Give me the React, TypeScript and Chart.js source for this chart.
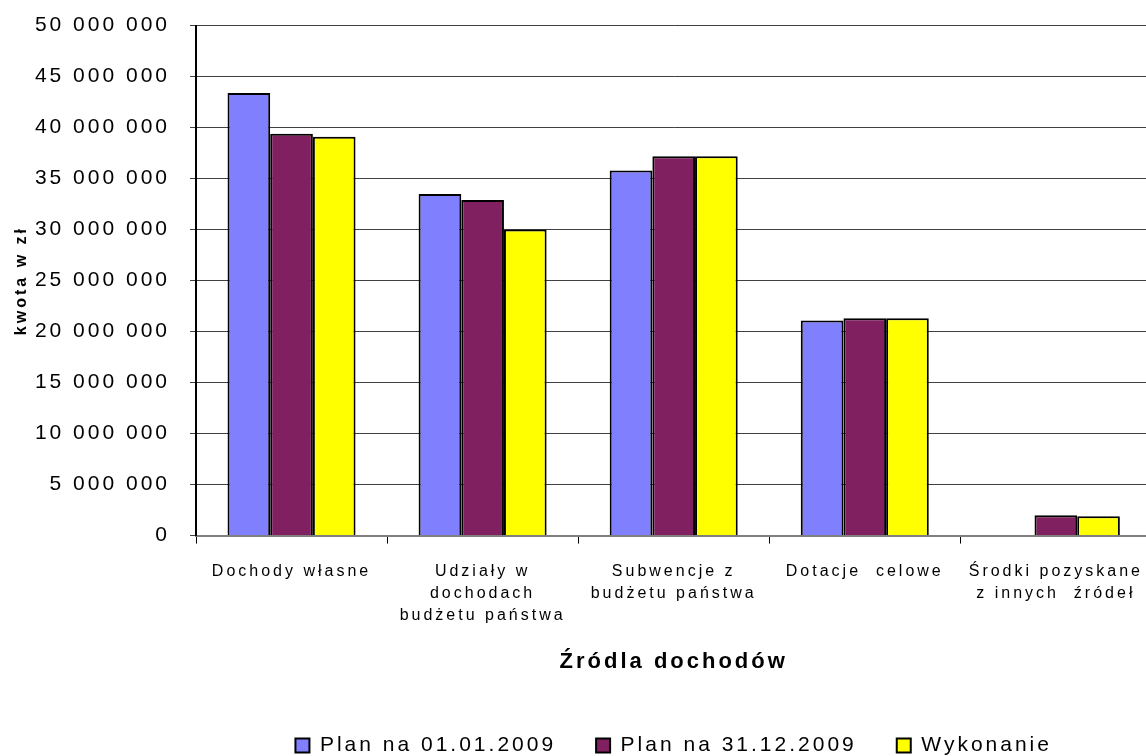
import React, { useEffect, useRef } from "react";
import { Chart, registerables } from "chart.js";

Chart.register(...registerables);

const categories: string[][] = [
  ["Dochody własne"],
  ["Udziały w", "dochodach", "budżetu państwa"],
  ["Subwencje z", "budżetu państwa"],
  ["Dotacje  celowe"],
  ["Środki pozyskane", "z innych  źródeł"],
];

const planStart = [43400000, 33500000, 35800000, 21100000, 0];
const planEnd = [39400000, 32900000, 37200000, 21300000, 2000000];
const execution = [39100000, 30000000, 37200000, 21300000, 1900000];

const seriesNames = ["Plan na 01.01.2009", "Plan na 31.12.2009", "Wykonanie"];
const yTitle = "kwota w zł";
const xTitle = "Źródla dochodów";

const FONT = "'Liberation Sans', Arial, sans-serif";

function fmt(v: number): string {
  return String(v).replace(/\B(?=(\d{3})+(?!\d))/g, " ");
}

const spacingPlugin = {
  id: "letterSpacing",
  beforeUpdate(chart: any) {
    chart.ctx.letterSpacing = "3px";
  },
  beforeLayout(chart: any) {
    chart.ctx.letterSpacing = "3px";
  },
  beforeDraw(chart: any) {
    chart.ctx.letterSpacing = "3px";
  },
};

export default function App() {
  const ref = useRef<HTMLCanvasElement | null>(null);

  useEffect(() => {
    if (!ref.current) return;
    const chart = new Chart(ref.current, {
      type: "bar",
      data: {
        labels: categories,
        datasets: [
          {
            label: seriesNames[0],
            data: planStart,
            backgroundColor: "#8080FF",
            borderColor: "#000000",
            borderWidth: 2,
          },
          {
            label: seriesNames[1],
            data: planEnd,
            backgroundColor: "#802060",
            borderColor: "#000000",
            borderWidth: 2,
          },
          {
            label: seriesNames[2],
            data: execution,
            backgroundColor: "#FFFF00",
            borderColor: "#000000",
            borderWidth: 2,
          },
        ],
      },
      plugins: [spacingPlugin],
      options: {
        responsive: false,
        animation: false,
        devicePixelRatio: 1,
        layout: { padding: { left: 12, right: -2, top: 0, bottom: 2 } },
        datasets: {
          bar: { categoryPercentage: 0.67, barPercentage: 1 },
        },
        plugins: {
          tooltip: { enabled: false },
          legend: {
            position: "bottom",
            fullSize: false,
            labels: {
              color: "#000",
              font: { family: FONT, size: 21 },
              boxWidth: 14,
              boxHeight: 14,
              padding: 40,
            },
          },
        },
        scales: {
          x: {
            grid: {
              offset: true,
              drawOnChartArea: false,
              drawTicks: true,
              tickLength: 8,
              color: "#000",
            },
            border: { color: "#808080", width: 2 },
            ticks: {
              color: "#000",
              font: { family: FONT, size: 16, lineHeight: 1.375 },
              padding: 17,
              maxRotation: 0,
              autoSkip: false,
            },
            title: {
              display: true,
              text: xTitle,
              color: "#000",
              font: { family: FONT, size: 22, weight: "bold" },
              padding: { top: 5, bottom: 20 },
            },
          },
          y: {
            min: 0,
            max: 50000000,
            afterFit: (scale: any) => {
              scale.width = 184;
            },
            grid: {
              color: "#404040",
              lineWidth: 1,
              drawTicks: true,
              tickLength: 6,
            },
            border: { color: "#000", width: 2 },
            ticks: {
              stepSize: 5000000,
              color: "#000",
              font: { family: FONT, size: 21 },
              padding: 20,
              callback: (v: any) => fmt(Number(v)),
            },
            title: {
              display: true,
              text: yTitle,
              color: "#000",
              font: { family: FONT, size: 16, weight: "bold" },
              padding: { top: 0, bottom: 4 },
            },
          },
        },
      },
    });
    return () => chart.destroy();
  }, []);

  return (
    <div
      style={{
        position: "fixed",
        left: 0,
        top: 0,
        width: 1146,
        height: 756,
        overflow: "hidden",
        background: "#fff",
      }}
    >
      <canvas
        ref={ref}
        width={1160}
        height={775}
        style={{ position: "absolute", left: 0, top: -7 }}
      />
    </div>
  );
}
